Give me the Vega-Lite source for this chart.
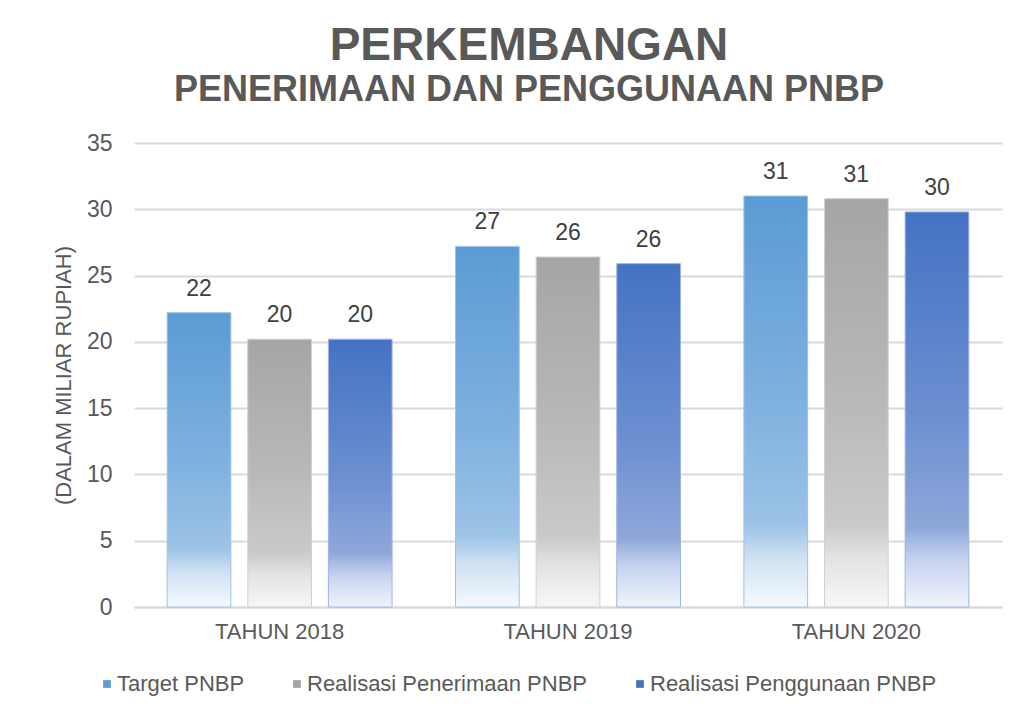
{
  "$schema": "https://vega.github.io/schema/vega-lite/v6.json",
  "width": 868,
  "height": 464,
  "autosize": {"type": "none"},
  "padding": {"left": 134, "top": 143, "right": 15, "bottom": 104},
  "background": "white",
  "title": {
    "text": "PERKEMBANGAN",
    "subtitle": "PENERIMAAN DAN PENGGUNAAN PNBP",
    "anchor": "middle",
    "frame": "group",
    "dx": -39,
    "font": "Liberation Sans",
    "fontSize": 46,
    "fontWeight": "bold",
    "color": "#595959",
    "subtitleFont": "Liberation Sans",
    "subtitleFontSize": 36,
    "subtitleFontWeight": "bold",
    "subtitleColor": "#595959",
    "subtitlePadding": 3,
    "offset": 23
  },
  "data": {
    "values": [
      {"tahun": "TAHUN 2018", "seri": "Target PNBP", "nilai": 22.2},
      {"tahun": "TAHUN 2018", "seri": "Realisasi Penerimaan PNBP", "nilai": 20.2},
      {"tahun": "TAHUN 2018", "seri": "Realisasi Penggunaan PNBP", "nilai": 20.2},
      {"tahun": "TAHUN 2019", "seri": "Target PNBP", "nilai": 27.2},
      {"tahun": "TAHUN 2019", "seri": "Realisasi Penerimaan PNBP", "nilai": 26.4},
      {"tahun": "TAHUN 2019", "seri": "Realisasi Penggunaan PNBP", "nilai": 25.9},
      {"tahun": "TAHUN 2020", "seri": "Target PNBP", "nilai": 31.0},
      {"tahun": "TAHUN 2020", "seri": "Realisasi Penerimaan PNBP", "nilai": 30.8},
      {"tahun": "TAHUN 2020", "seri": "Realisasi Penggunaan PNBP", "nilai": 29.8}
    ]
  },
  "encoding": {
    "x": {
      "field": "tahun",
      "type": "nominal",
      "scale": {"paddingInner": 0.22, "paddingOuter": 0.115},
      "axis": {
        "title": null,
        "labelAngle": 0,
        "labelFont": "Liberation Sans",
        "labelFontSize": 22,
        "labelColor": "#595959",
        "labelPadding": 14,
        "ticks": false,
        "domainColor": "#D9D9D9",
        "domainWidth": 2,
        "grid": false
      }
    },
    "xOffset": {
      "field": "seri",
      "type": "nominal",
      "sort": ["Target PNBP", "Realisasi Penerimaan PNBP", "Realisasi Penggunaan PNBP"],
      "scale": {"domain": ["Target PNBP", "Realisasi Penerimaan PNBP", "Realisasi Penggunaan PNBP"], "paddingInner": 0.21, "paddingOuter": 0}
    },
    "y": {
      "field": "nilai",
      "type": "quantitative",
      "scale": {"domain": [0, 35], "nice": false},
      "axis": {
        "title": "(DALAM  MILIAR  RUPIAH)",
        "titleFont": "Liberation Sans",
        "titleFontSize": 22,
        "titleFontWeight": "normal",
        "titleColor": "#595959",
        "titlePadding": 11,
        "values": [0, 5, 10, 15, 20, 25, 30, 35],
        "labelFont": "Liberation Sans",
        "labelFontSize": 23,
        "labelColor": "#595959",
        "labelPadding": 22,
        "ticks": false,
        "domain": false,
        "gridColor": "#D9D9D9",
        "gridWidth": 2
      }
    }
  },
  "layer": [
    {
      "mark": {"type": "bar", "opacity": 0},
      "encoding": {
        "color": {
          "field": "seri",
          "type": "nominal",
          "sort": ["Target PNBP", "Realisasi Penerimaan PNBP", "Realisasi Penggunaan PNBP"],
          "scale": {"domain": ["Target PNBP", "Realisasi Penerimaan PNBP", "Realisasi Penggunaan PNBP"], "range": ["#5B9BD5", "#A5A5A5", "#4472C4"]},
          "legend": {
            "title": null,
            "orient": "none",
            "direction": "horizontal",
            "legendX": -38,
            "legendY": 530,
            "symbolType": "square",
            "symbolSize": 60,
            "symbolOpacity": 1,
            "symbolStrokeWidth": 0,
            "labelFont": "Liberation Sans",
            "labelFontSize": 22,
            "labelColor": "#595959",
            "labelOffset": -1,
            "columnPadding": 41,
            "labelLimit": 400
          }
        }
      }
    },
    {
      "transform": [{"filter": "datum.seri === 'Target PNBP'"}],
      "mark": {
        "type": "bar",
        "stroke": "#9DC3E6",
        "strokeWidth": 1,
        "color": {
          "gradient": "linear", "x1": 0, "y1": 0, "x2": 0, "y2": 1,
          "stops": [
            {"offset": 0, "color": "#5B9BD5"},
            {"offset": 0.5, "color": "#7EB1DF"},
            {"offset": 0.8, "color": "#9CC3E6"},
            {"offset": 0.88, "color": "#CFE1F3"},
            {"offset": 1, "color": "#F6F9FD"}
          ]
        }
      }
    },
    {
      "transform": [{"filter": "datum.seri === 'Realisasi Penerimaan PNBP'"}],
      "mark": {
        "type": "bar",
        "stroke": "#D0D0D0",
        "strokeWidth": 1,
        "color": {
          "gradient": "linear", "x1": 0, "y1": 0, "x2": 0, "y2": 1,
          "stops": [
            {"offset": 0, "color": "#A5A5A5"},
            {"offset": 0.5, "color": "#B9B9B9"},
            {"offset": 0.8, "color": "#CACACA"},
            {"offset": 0.88, "color": "#E3E3E3"},
            {"offset": 1, "color": "#F7F7F7"}
          ]
        }
      }
    },
    {
      "transform": [{"filter": "datum.seri === 'Realisasi Penggunaan PNBP'"}],
      "mark": {
        "type": "bar",
        "stroke": "#9FB3E0",
        "strokeWidth": 1,
        "color": {
          "gradient": "linear", "x1": 0, "y1": 0, "x2": 0, "y2": 1,
          "stops": [
            {"offset": 0, "color": "#4472C4"},
            {"offset": 0.5, "color": "#6B8ED0"},
            {"offset": 0.8, "color": "#8EA7DA"},
            {"offset": 0.88, "color": "#C5D2EE"},
            {"offset": 1, "color": "#F1F4FB"}
          ]
        }
      }
    },
    {
      "mark": {"type": "text", "baseline": "alphabetic", "dy": -17, "font": "Liberation Sans", "fontSize": 23, "color": "#404040"},
      "encoding": {
        "text": {"field": "nilai", "type": "quantitative", "format": ".0f"}
      }
    }
  ],
  "config": {
    "view": {"stroke": null}
  }
}
